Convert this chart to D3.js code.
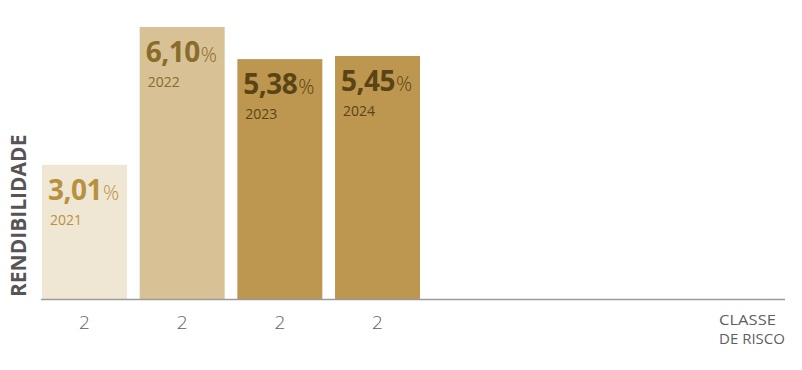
<!DOCTYPE html>
<html lang="pt">
<head>
  <meta charset="utf-8">
  <title>Rendibilidade</title>
  <script src="https://d3js.org/d3.v7.min.js"></script>
  <style>
    body{margin:0;background:#fff;overflow:hidden;}
    svg{display:block;font-family:"Open Sans",sans-serif;}
  </style>
</head>
<body>
  <svg width="802" height="370"></svg>
  <script>
    // data
    var years = ["2021", "2022", "2023", "2024"];
    var values = [3.01, 6.10, 5.38, 5.45];
    var riskClass = ["2", "2", "2", "2"];

    // styles per bar
    var barFill = ["#f0e6d4", "#d8c194", "#bd974f", "#bd974f"];
    var textFill = ["#b8913f", "#8a6c2a", "#5a4416", "#5a4416"];

    var svg = d3.select("svg");
    var baseY = 299;

    var x = d3.scaleBand()
        .domain(years)
        .range([42, 420])
        .paddingInner(0.13)
        .paddingOuter(0);

    var y = d3.scaleLinear()
        .domain([0, 6.10])
        .range([baseY, 27]);

    var fmt = function(v){ return d3.format(".2f")(v).replace(".", ","); };

    var bars = svg.selectAll(".bar")
      .data(years)
      .enter().append("g")
        .attr("class", "bar");

    bars.append("rect")
        .attr("x", function(d){ return x(d); })
        .attr("y", function(d, i){ return y(values[i]); })
        .attr("width", x.bandwidth())
        .attr("height", function(d, i){ return baseY - y(values[i]); })
        .attr("fill", function(d, i){ return barFill[i]; });

    var val = bars.append("text")
        .attr("x", function(d){ return x(d) + 6; })
        .attr("y", function(d, i){ return y(values[i]) + 35; })
        .attr("fill", function(d, i){ return textFill[i]; });
    val.append("tspan")
        .attr("font-size", 28)
        .attr("font-weight", 700)
        .attr("letter-spacing", -0.5)
        .text(function(d, i){ return fmt(values[i]); });
    val.append("tspan")
        .attr("font-size", 20)
        .attr("font-weight", 300)
        .attr("dx", 1)
        .text("%");

    bars.append("text")
        .attr("x", function(d){ return x(d) + 8; })
        .attr("y", function(d, i){ return y(values[i]) + 60; })
        .attr("fill", function(d, i){ return textFill[i]; })
        .attr("font-size", 14)
        .text(function(d){ return d; });

    // axis baseline
    svg.append("line")
        .attr("x1", 41).attr("x2", 785)
        .attr("y1", baseY + 0.5).attr("y2", baseY + 0.5)
        .attr("stroke", "#9a9a9a")
        .attr("stroke-width", 1.5);

    // risk class labels
    svg.selectAll(".risk")
      .data(years)
      .enter().append("text")
        .attr("class", "risk")
        .attr("x", function(d){ return x(d) + x.bandwidth() / 2; })
        .attr("y", 329)
        .attr("text-anchor", "middle")
        .attr("font-size", 19)
        .attr("font-weight", 300)
        .attr("fill", "#5f5f5f")
        .text(function(d, i){ return riskClass[i]; });

    svg.append("text")
        .attr("x", 719).attr("y", 325)
        .attr("font-size", 15)
        .attr("font-weight", 400)
        .attr("fill", "#5f5f5f")
        .attr("textLength", 57)
        .attr("lengthAdjust", "spacingAndGlyphs")
        .text("CLASSE");
    svg.append("text")
        .attr("x", 719).attr("y", 344)
        .attr("font-size", 15)
        .attr("font-weight", 400)
        .attr("fill", "#5f5f5f")
        .attr("textLength", 66)
        .attr("lengthAdjust", "spacingAndGlyphs")
        .text("DE RISCO");

    svg.append("text")
        .attr("transform", "translate(26,297) rotate(-90)")
        .attr("font-size", 21)
        .attr("font-weight", 700)
        .attr("fill", "#555")
        .text("RENDIBILIDADE");
  </script>
</body>
</html>
